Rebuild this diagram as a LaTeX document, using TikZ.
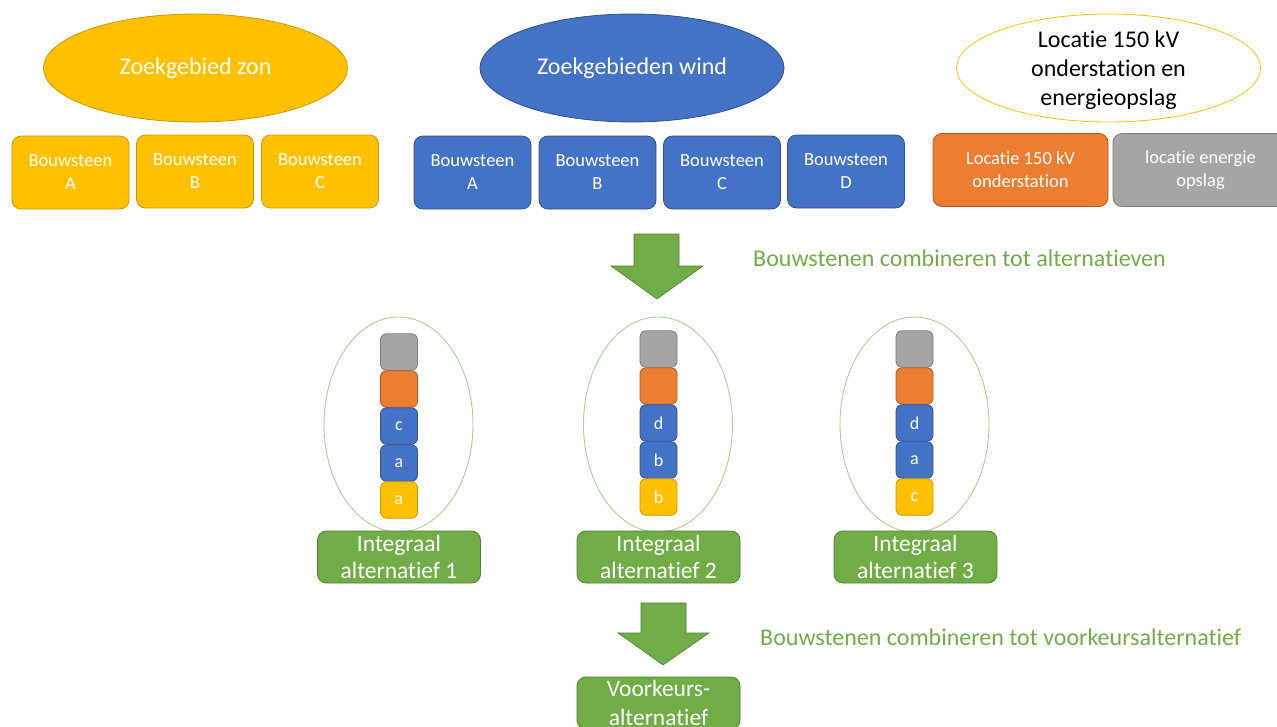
\documentclass[tikz,border=0pt]{standalone}
\usepackage{fontspec}
\setmainfont{Carlito}[Ligatures={NoCommon,NoRare,NoContextual}, RawFeature={-liga;-clig;-dlig;-calt;-hlig}]
\usetikzlibrary{shapes.geometric}
\definecolor{oyellow}{HTML}{FFC000}
\definecolor{oyellowd}{HTML}{C99A00}
\definecolor{oblue}{HTML}{4472C4}
\definecolor{oblued}{HTML}{2F528F}
\definecolor{oorange}{HTML}{ED7D31}
\definecolor{oorangedk}{HTML}{AE5A21}
\definecolor{ogray}{HTML}{A5A5A5}
\definecolor{ograyd}{HTML}{7B7B7B}
\definecolor{ogreen}{HTML}{70AD47}
\definecolor{ogreend}{HTML}{507E32}
\definecolor{olgreen}{HTML}{A9D18E}
\tikzset{
  bigell/.style={ellipse, minimum width=304, minimum height=108, inner sep=0, line width=0.8pt,
    font=\fontsize{24}{29}\selectfont, align=center},
  bbox/.style={rounded corners=9, minimum width=117, minimum height=73, inner sep=0, line width=0.8pt,
    text=white, font=\fontsize{18.5}{23}\selectfont, align=center},
  ybox/.style={bbox, fill=oyellow, draw=oyellowd},
  blbox/.style={bbox, fill=oblue, draw=oblued},
  sq/.style={rounded corners=6, minimum width=37, minimum height=36.5, inner sep=0, line width=0.8pt,
    text=white, font=\fontsize{18}{21}\selectfont},
  ysq/.style={sq, fill=oyellow, draw=oyellowd},
  bsq/.style={sq, fill=oblue, draw=oblued},
  osq/.style={sq, fill=oorange, draw=oorangedk},
  gsq/.style={sq, fill=ogray, draw=ograyd},
  altell/.style={ellipse, draw=olgreen, line width=0.9pt, minimum width=149, minimum height=215, inner sep=0},
  gbox/.style={rounded corners=9, fill=ogreen, draw=ogreend, line width=0.8pt, minimum width=163,
    minimum height=52, inner sep=0, text=white, font=\fontsize{23.5}{27}\selectfont, align=center},
  garrow/.style={fill=ogreen, draw=ogreend, line width=0.6pt},
  glabel/.style={anchor=base west, inner sep=0, text=ogreen, font=\fontsize{24}{29}\selectfont}
}
\begin{document}
\begin{tikzpicture}[x=1pt, y=-1pt]
\useasboundingbox (0,0) rectangle (1277,726);
% top ellipses
\node[bigell, fill=oyellow, draw=oyellowd, text=white] (ezon) at (195.5,68) {Zoekgebied zon};
\node[bigell, fill=oblue, draw=oblued, text=white] (ewind) at (632,68) {Zoekgebieden wind};
\node[bigell, fill=white, draw=oyellow, text=black] (eloc) at (1108.5,68) {};
\node[font=\fontsize{24}{29}\selectfont, align=center, inner sep=0, text=black] (elt) at (1108.5,70) {Locatie 150 kV\\onderstation en\\energieopslag};
% yellow building blocks
\node[ybox] (za) at (70.5,172.5) {Bouwsteen\\A};
\node[ybox] (zb) at (195,171.5) {Bouwsteen\\B};
\node[ybox] (zc) at (320,171.5) {Bouwsteen\\C};
% blue building blocks
\node[blbox] (wa) at (472.5,172.5) {Bouwsteen\\A};
\node[blbox] (wb) at (597.5,172.5) {Bouwsteen\\B};
\node[blbox] (wc) at (722,172.5) {Bouwsteen\\C};
\node[blbox] (wd) at (846,171.5) {Bouwsteen\\D};
% location blocks
\node[bbox, minimum width=175, fill=oorange, draw=oorangedk] (lo) at (1020.5,170) {Locatie 150 kV\\onderstation};
\node[bbox, minimum width=175, fill=ogray, draw=ograyd] (le) at (1200.5,170) {locatie energie\\opslag};
% arrow 1
\draw[garrow] (634,234) -- (679,234) -- (679,266) -- (703,266) -- (657,299) -- (611,266) -- (634,266) -- cycle;
\node[glabel] (t1) at (753,266) {Bouwstenen combineren tot alternatieven};
% alternative 1
\node[altell] (al1) at (398.5,424.5) {};
\node[gsq] (a1g) at (399,352) {};
\node[osq] (a1o) at (399,389) {};
\node[bsq] (a1w1) at (399,426) {c};
\node[bsq] (a1w2) at (399,463) {a};
\node[ysq] (a1z) at (399,500) {a};
\node[gbox] (g1) at (399,557) {Integraal\\alternatief 1};
% alternative 2
\node[altell] (al2) at (658,424.5) {};
\node[gsq] (a2g) at (658.5,349) {};
\node[osq] (a2o) at (658.5,386) {};
\node[bsq] (a2w1) at (658.5,423) {d};
\node[bsq] (a2w2) at (658.5,460) {b};
\node[ysq] (a2z) at (658.5,497) {b};
\node[gbox] (g2) at (658.5,557) {Integraal\\alternatief 2};
% alternative 3
\node[altell] (al3) at (914.5,424.5) {};
\node[gsq] (a3g) at (914.5,349) {};
\node[osq] (a3o) at (914.5,386) {};
\node[bsq] (a3w1) at (914.5,423) {d};
\node[bsq] (a3w2) at (914.5,460) {a};
\node[ysq] (a3z) at (914.5,497) {c};
\node[gbox] (g3) at (915.5,557) {Integraal\\alternatief 3};
% arrow 2
\draw[garrow] (641,603) -- (686,603) -- (686,633) -- (709,633) -- (663,665) -- (618,633) -- (641,633) -- cycle;
\node[glabel] (t2) at (760,645) {Bouwstenen combineren tot voorkeursalternatief};
% preferred alternative
\node[gbox, font=\fontsize{23.5}{29}\selectfont] (vk) at (658.5,703) {Voorkeurs-\\alternatief};
\end{tikzpicture}
\end{document}
